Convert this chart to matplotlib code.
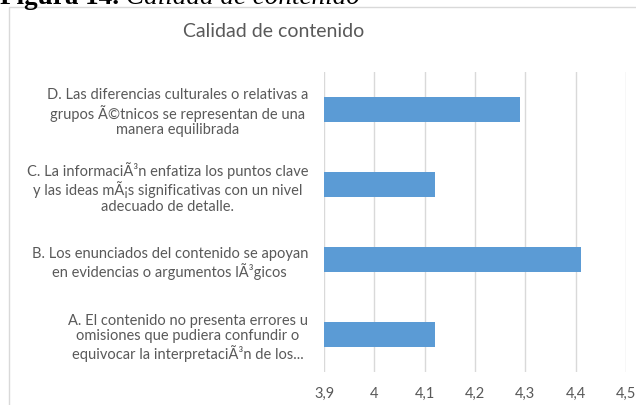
import matplotlib
matplotlib.use("Agg")
import matplotlib.pyplot as plt
from matplotlib.patches import Rectangle
from matplotlib.ticker import FixedLocator, FixedFormatter

# Data
categories = [
    "A. El contenido no presenta errores u\nomisiones que pudiera confundir o\nequivocar la interpretaciÃ³n de los...",
    "B. Los enunciados del contenido se apoyan\nen evidencias o argumentos lÃ³gicos",
    "C. La informaciÃ³n enfatiza los puntos clave\ny las ideas mÃ¡s significativas con un nivel\nadecuado de detalle.",
    "D. Las diferencias culturales o relativas a\ngrupos Ã©tnicos se representan de una\nmanera equilibrada",
]
values = [4.12, 4.41, 4.12, 4.29]
x_ticks = [3.9, 4.0, 4.1, 4.2, 4.3, 4.4, 4.5]
x_tick_labels = ["3,9", "4", "4,1", "4,2", "4,3", "4,4", "4,5"]
chart_title = "Calidad de contenido"
caption_num = "Figura 14."
caption_text = "Calidad de contenido"

W, H = 636, 406
fig = plt.figure(figsize=(W / 100, H / 100), dpi=100)
fig.patch.set_facecolor("white")

text_gray = "#595959"
grid_gray = "#d9d9d9"
bar_blue = "#5b9bd5"

# chart frame
fig.patches.append(Rectangle((9 / W, -0.05), 1.2, 1 - 8 / H + 0.05,
                             transform=fig.transFigure, facecolor="none",
                             edgecolor=grid_gray, linewidth=1.0))

# figure caption, mostly above the top edge
cap_y = 1 - 3.5 / H
t1 = fig.text(0, cap_y, caption_num, fontfamily="Liberation Serif",
              fontweight="bold", fontsize=19.5, va="baseline", ha="left", color="black")
renderer = fig.canvas.get_renderer()
x_end = t1.get_window_extent(renderer).x1
fig.text((x_end + 7) / W, cap_y, caption_text, fontfamily="Liberation Serif",
         fontstyle="italic", fontsize=19.5, va="baseline", ha="left", color="black")

fig.text(274 / W, 1 - 37 / H, chart_title, fontfamily="Lato", fontsize=14,
         color=text_gray, ha="center", va="baseline")

ax = fig.add_axes([324 / W, 1 - 373 / H, (626 - 324) / W, (373 - 73) / H])
pos = list(range(len(categories)))
ax.barh(pos, [v - x_ticks[0] for v in values], left=x_ticks[0], height=0.34,
        color=bar_blue, zorder=3)

ax.set_xlim(x_ticks[0], x_ticks[-1])
ax.set_ylim(-0.5, len(categories) - 0.5)
ax.xaxis.set_major_locator(FixedLocator(x_ticks))
ax.xaxis.set_major_formatter(FixedFormatter(x_tick_labels))
ax.set_yticks(pos)
ax.set_yticklabels(categories, fontfamily="Lato", fontsize=10.5, color=text_gray,
                   linespacing=1.15, multialignment="center")
for t in ax.get_xticklabels():
    t.set_fontfamily("Lato")
    t.set_fontsize(10.5)
    t.set_color(text_gray)

ax.grid(axis="x", color=grid_gray, linewidth=1.0, zorder=0)
for s in ax.spines.values():
    s.set_visible(False)
ax.tick_params(axis="both", length=0)
ax.tick_params(axis="x", pad=10)
ax.tick_params(axis="y", pad=11.5)
ax.set_facecolor("none")

fig.savefig("out.png", dpi=100)
